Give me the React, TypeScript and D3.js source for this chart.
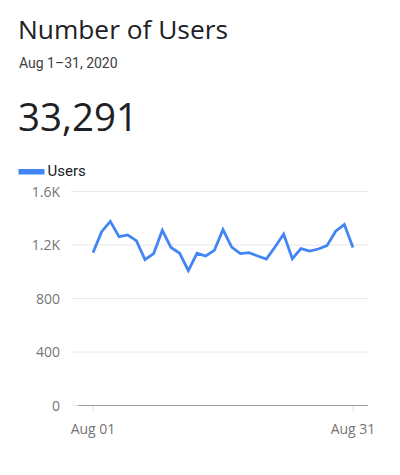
import { useEffect, useRef } from "react";
import * as d3 from "d3";

const days = d3.range(1, 32);
const users = [
  1143, 1300, 1377, 1263, 1275, 1233, 1091, 1136, 1310, 1181, 1138, 1008, 1138, 1118, 1160, 1315,
  1185, 1136, 1143, 1118, 1095, 1185, 1282, 1098, 1173, 1155, 1170, 1195, 1303, 1353, 1181,
];
const yTicks = [0, 400, 800, 1200, 1600];
const yTickLabels = ["0", "400", "800", "1.2K", "1.6K"];
const xTicks = [1, 31];
const xTickLabels = ["Aug 01", "Aug 31"];

const FONT = "Roboto, 'Noto Sans', sans-serif";
const WIDE = "'Open Sans', Roboto, sans-serif";

export default function App() {
  const ref = useRef<SVGSVGElement>(null);

  useEffect(() => {
    if (!ref.current) return;
    const svg = d3.select(ref.current);
    svg.selectAll("*").remove();

    const x = d3.scaleLinear().domain([1, 31]).range([93, 353]);
    const y = d3.scaleLinear().domain([0, 1600]).range([405.5, 191.5]);

    // header
    svg.append("text").attr("x", 18).attr("y", 39).text("Number of Users")
      .style("font-family", WIDE).style("font-size", "26.3px").style("fill", "#202124");
    svg.append("text").attr("x", 19).attr("y", 68).text("Aug 1–31, 2020")
      .style("font-size", "14px").style("fill", "#3c4043");
    svg.append("text").attr("x", 18).attr("y", 131).text("33,291")
      .style("font-family", WIDE).style("font-size", "38.5px").style("fill", "#202124");

    // legend
    svg.append("rect").attr("x", 18.5).attr("y", 169).attr("width", 26).attr("height", 5.5).attr("fill", "#4285f4");
    svg.append("text").attr("x", 47.5).attr("y", 176).text("Users")
      .style("font-size", "15px").style("fill", "#202124");

    // grid
    const grid = svg.append("g");
    grid.selectAll("line").data(yTicks.filter((t) => t > 0)).enter().append("line")
      .attr("x1", 71).attr("x2", 368)
      .attr("y1", (d) => y(d)).attr("y2", (d) => y(d))
      .attr("stroke", "#e8e8e8").attr("stroke-width", 1);
    grid.append("line").attr("x1", 71).attr("x2", 78).attr("y1", y(0)).attr("y2", y(0))
      .attr("stroke", "#e8e8e8");

    svg.append("g").selectAll("text").data(yTicks).enter().append("text")
      .attr("x", 60).attr("y", (d) => y(d)).attr("dy", "0.36em").attr("text-anchor", "end")
      .text((_d, i) => yTickLabels[i])
      .style("font-family", WIDE).style("font-size", "14px").style("fill", "#757575");

    // x axis
    svg.append("g").selectAll("line").data(xTicks).enter().append("line")
      .attr("x1", (d) => x(d)).attr("x2", (d) => x(d))
      .attr("y1", y(0)).attr("y2", y(0) + 6)
      .attr("stroke", "#e0e0e0");
    svg.append("line").attr("x1", 78).attr("x2", 368).attr("y1", y(0)).attr("y2", y(0))
      .attr("stroke", "#a0a0a0").attr("stroke-width", 1.2);
    svg.append("g").selectAll("text").data(xTicks).enter().append("text")
      .attr("x", (d) => x(d)).attr("y", 434).attr("text-anchor", "middle")
      .text((_d, i) => xTickLabels[i])
      .style("font-family", WIDE).style("font-size", "14px").style("fill", "#757575");

    // line
    const line = d3.line<number>().x((_d, i) => x(days[i])).y((d) => y(d));
    svg.append("path").datum(users).attr("d", line)
      .attr("fill", "none").attr("stroke", "#4285f4").attr("stroke-width", 2.8)
      .attr("stroke-linejoin", "miter");
  }, []);

  return (
    <svg ref={ref} width={400} height={475}
      style={{ position: "absolute", left: 0, top: 0, fontFamily: FONT }} />
  );
}
